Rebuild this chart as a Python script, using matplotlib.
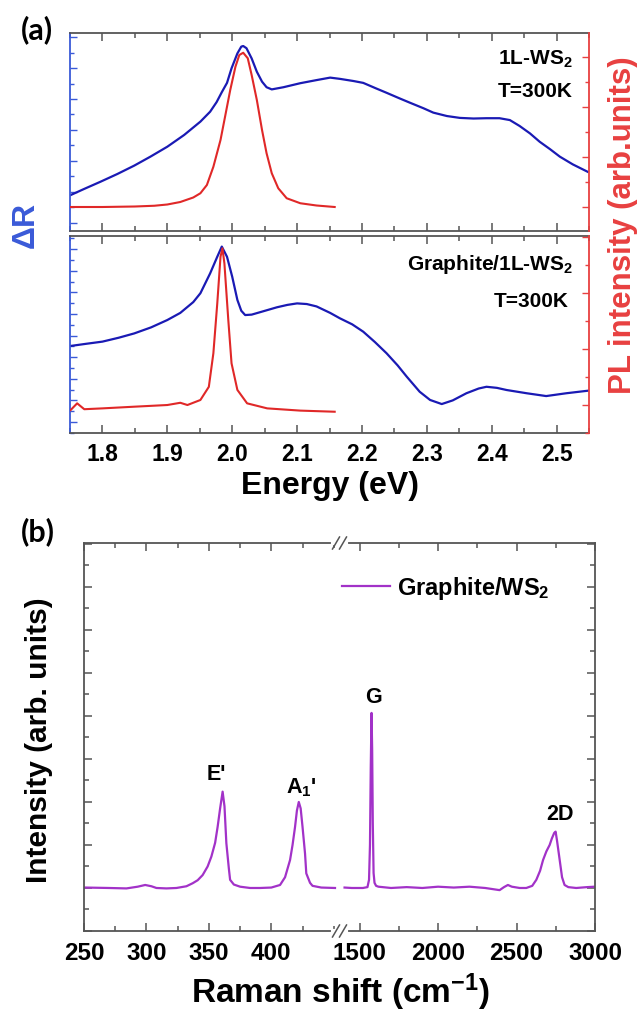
import matplotlib
matplotlib.use("Agg")
import matplotlib.pyplot as plt
from matplotlib.ticker import MultipleLocator, FixedLocator
from matplotlib.lines import Line2D

plt.rcParams['font.family'] = ['Liberation Sans', 'DejaVu Sans']
plt.rcParams['font.weight'] = 'bold'
plt.rcParams['mathtext.fontset'] = 'custom'
plt.rcParams['mathtext.rm'] = 'Liberation Sans:bold'
plt.rcParams['mathtext.bf'] = 'Liberation Sans:bold'
plt.rcParams['mathtext.it'] = 'Liberation Sans:bold'
plt.rcParams['mathtext.default'] = 'rm'

# ---------------- data: panel (a) top, 1L-WS2 ----------------
E_top_dR = [1.751, 1.771, 1.797, 1.823, 1.849, 1.874, 1.900, 1.926, 1.951, 1.966,
            1.976, 1.984, 1.992, 1.999, 2.008, 2.014, 2.017, 2.022, 2.030, 2.038,
            2.046, 2.053, 2.061, 2.079, 2.105, 2.130, 2.151, 2.166, 2.187, 2.202,
            2.222, 2.238, 2.258, 2.274, 2.295, 2.310, 2.331, 2.351, 2.372, 2.392,
            2.412, 2.428, 2.443, 2.459, 2.474, 2.490, 2.505, 2.525, 2.548]
dR_top = [0.90, 1.09, 1.33, 1.58, 1.85, 2.14, 2.46, 2.84, 3.27, 3.59,
          3.90, 4.22, 4.52, 4.99, 5.47, 5.69, 5.71, 5.64, 5.31, 4.88,
          4.56, 4.38, 4.31, 4.38, 4.51, 4.61, 4.69, 4.65, 4.58, 4.52,
          4.34, 4.20, 4.02, 3.88, 3.70, 3.56, 3.45, 3.39, 3.37, 3.38,
          3.38, 3.32, 3.13, 2.89, 2.62, 2.38, 2.14, 1.89, 1.65]

E_top_PL = [1.750, 1.800, 1.850, 1.880, 1.900, 1.920, 1.940, 1.951, 1.961, 1.971,
            1.982, 1.989, 1.997, 2.005, 2.011, 2.017, 2.024, 2.030, 2.038, 2.046,
            2.053, 2.061, 2.071, 2.084, 2.105, 2.130, 2.158]
PL_top = [0.00, 0.00, 0.02, 0.05, 0.10, 0.20, 0.38, 0.55, 0.88, 1.61,
          2.68, 3.61, 4.68, 5.61, 6.08, 6.17, 5.95, 5.28, 4.28, 3.08,
          2.15, 1.35, 0.75, 0.35, 0.15, 0.06, 0.00]

# ---------------- data: panel (a) bottom, Graphite/1L-WS2 ----------------
E_bot_dR = [1.751, 1.775, 1.800, 1.825, 1.849, 1.875, 1.900, 1.920, 1.940, 1.951,
            1.966, 1.977, 1.984, 1.992, 2.000, 2.008, 2.014, 2.020, 2.030, 2.045,
            2.069, 2.085, 2.100, 2.115, 2.130, 2.151, 2.166, 2.185, 2.202, 2.220,
            2.238, 2.255, 2.269, 2.289, 2.305, 2.323, 2.340, 2.361, 2.380, 2.392,
            2.408, 2.423, 2.454, 2.484, 2.515, 2.549]
dR_bot = [3.52, 3.62, 3.72, 3.90, 4.10, 4.38, 4.72, 5.05, 5.55, 5.96,
          6.88, 7.65, 8.12, 7.65, 6.73, 5.65, 5.15, 4.95, 4.97, 5.10,
          5.31, 5.42, 5.49, 5.46, 5.35, 5.05, 4.80, 4.52, 4.18, 3.70,
          3.18, 2.62, 2.10, 1.40, 1.02, 0.83, 1.00, 1.33, 1.55, 1.63,
          1.58, 1.48, 1.33, 1.20, 1.33, 1.45]

E_bot_PL = [1.751, 1.761, 1.772, 1.800, 1.849, 1.900, 1.920, 1.931, 1.951, 1.964,
            1.971, 1.977, 1.982, 1.985, 1.988, 1.994, 1.999, 2.008, 2.023, 2.054,
            2.105, 2.158]
PL_bot = [-0.18, 0.06, -0.15, -0.12, -0.06, 0.00, 0.08, 0.00, 0.18, 0.65,
          1.85, 3.63, 5.30, 5.60, 5.06, 3.04, 1.49, 0.54, 0.06, -0.12,
          -0.20, -0.24]

energy_ticks = [1.8, 1.9, 2.0, 2.1, 2.2, 2.3, 2.4, 2.5]

# ---------------- data: panel (b), Raman ----------------
raman_low_x = [251, 270, 284, 293, 299, 304, 308, 316, 324, 332, 337, 341, 345, 349,
               352, 355, 357, 359, 361, 362.5, 364, 366, 367, 370, 375, 383, 391, 400,
               407, 411, 415, 417, 419, 420.5, 422, 423.5, 425, 427, 428, 431, 433,
               440, 451]
raman_low_y = [1.01, 1.00, 0.99, 1.03, 1.07, 1.04, 1.00, 0.99, 1.00, 1.04, 1.11, 1.18,
               1.30, 1.50, 1.73, 2.05, 2.42, 2.85, 3.24, 2.90, 2.04, 1.45, 1.19, 1.08,
               1.03, 1.00, 1.00, 1.01, 1.07, 1.25, 1.65, 2.00, 2.42, 2.80, 3.00, 2.85,
               2.42, 1.80, 1.34, 1.12, 1.05, 1.01, 1.00]
raman_high_x = [1404, 1450, 1521, 1550, 1560, 1566, 1571, 1576, 1580, 1584, 1589, 1595,
                1605, 1620, 1700, 1800, 1900, 2000, 2100, 2200, 2300, 2392, 2420, 2445,
                2470, 2520, 2562, 2600, 2626, 2650, 2669, 2690, 2711, 2725, 2740, 2749,
                2758, 2775, 2790, 2806, 2830, 2880, 2950, 2997]
raman_high_y = [1.01, 1.00, 1.00, 1.02, 1.19, 2.00, 3.80, 5.07, 4.20, 2.50, 1.35, 1.12,
                1.05, 1.03, 1.00, 1.02, 1.00, 1.03, 1.01, 1.03, 1.00, 0.95, 1.02, 1.07,
                1.03, 1.00, 1.00, 1.05, 1.19, 1.40, 1.65, 1.85, 2.00, 2.15, 2.28, 2.31,
                2.10, 1.65, 1.25, 1.07, 1.02, 1.00, 1.02, 1.03]
raman_low_ticks = [250, 300, 350, 400]
raman_high_ticks = [1500, 2000, 2500, 3000]

# ---------------- styling ----------------
BLUE_LINE = '#1a1ab4'
RED_LINE = '#e02828'
BLUE_AX = '#3a5ad8'
RED_AX = '#e84040'
PURPLE = '#a232c8'
GREY = '#555555'

W, H = 641, 1014
fig = plt.figure(figsize=(W / 100, H / 100), dpi=100)


def fx(px):
    return px / W


def fy(py):
    return 1 - py / H


def rect(x0, y0, x1, y1):
    return [fx(x0), fy(y1), fx(x1) - fx(x0), fy(y0) - fy(y1)]


ax1 = fig.add_axes(rect(70, 33, 589, 231))
ax2 = fig.add_axes(rect(70, 236, 589, 433))
ax1r = ax1.twinx()
ax2r = ax2.twinx()

ax1.plot(E_top_dR, dR_top, color=BLUE_LINE, lw=1.6)
ax1r.plot(E_top_PL, PL_top, color=RED_LINE, lw=1.5)
ax2.plot(E_bot_dR, dR_bot, color=BLUE_LINE, lw=1.6)
ax2r.plot(E_bot_PL, PL_bot, color=RED_LINE, lw=1.5)

ax1.set_ylim(-0.26, 6.13)
ax1r.set_ylim(-0.96, 6.96)
ax2.set_ylim(-0.51, 8.61)
ax2r.set_ylim(-1.0, 6.04)

for ax, axr in [(ax1, ax1r), (ax2, ax2r)]:
    ax.set_xlim(1.75, 2.55)
    ax.xaxis.set_major_locator(FixedLocator(energy_ticks))
    ax.xaxis.set_minor_locator(MultipleLocator(0.05))
    ax.tick_params(axis='x', which='both', direction='in', top=True, bottom=True,
                   color=GREY, width=1.1)
    ax.tick_params(axis='x', which='major', length=6)
    ax.tick_params(axis='x', which='minor', length=3.5)
    ax.yaxis.set_major_locator(MultipleLocator(1))
    ax.yaxis.set_minor_locator(MultipleLocator(0.5))
    ax.tick_params(axis='y', which='both', direction='in', color=BLUE_AX,
                   labelleft=False, width=1.0)
    ax.tick_params(axis='y', which='major', length=5)
    ax.tick_params(axis='y', which='minor', length=3)
    axr.yaxis.set_major_locator(MultipleLocator(2))
    axr.yaxis.set_minor_locator(MultipleLocator(1))
    axr.tick_params(axis='y', which='both', direction='in', color=RED_AX,
                    labelright=False, width=1.0)
    axr.tick_params(axis='y', which='major', length=5)
    axr.tick_params(axis='y', which='minor', length=3)
    for s in ['top', 'bottom']:
        ax.spines[s].set_color(GREY)
        ax.spines[s].set_linewidth(1.3)
    ax.spines['left'].set_color(BLUE_AX)
    ax.spines['left'].set_linewidth(1.3)
    ax.spines['right'].set_visible(False)
    for s in ['top', 'bottom', 'left']:
        axr.spines[s].set_visible(False)
    axr.spines['right'].set_color(RED_AX)
    axr.spines['right'].set_linewidth(1.3)

ax1.tick_params(axis='x', labelbottom=False)
ax2.set_xticklabels([f"{t:.1f}" for t in energy_ticks])
ax2.tick_params(axis='x', labelsize=16.5, pad=7)
for lab in ax2.get_xticklabels():
    lab.set_fontweight('bold')

ax1.text(0.969, 0.838, r"1L-WS$_2$", transform=ax1.transAxes, ha='right',
         va='baseline', fontsize=15)
ax1.text(0.969, 0.677, "T=300K", transform=ax1.transAxes, ha='right',
         va='baseline', fontsize=15)
ax2.text(0.969, 0.827, r"Graphite/1L-WS$_2$", transform=ax2.transAxes, ha='right',
         va='baseline', fontsize=15)
ax2.text(0.960, 0.640, "T=300K", transform=ax2.transAxes, ha='right',
         va='baseline', fontsize=15)

fig.text(fx(330), fy(494), "Energy (eV)", ha='center', va='baseline', fontsize=23)
fig.text(fx(26), fy(225), "ΔR", ha='center', va='center', rotation=90,
         fontsize=23, color=BLUE_AX)
fig.text(fx(623), fy(225), "PL intensity (arb.units)", ha='center', va='center',
         rotation=90, fontsize=22.5, color=RED_AX)
fig.text(fx(37), fy(30), "(a)", ha='center', va='center', fontsize=22,
         family=['Lato', 'DejaVu Sans'], weight='bold')

# ---------------- panel (b) ----------------
axL = fig.add_axes(rect(84, 543, 340, 931))
axR = fig.add_axes(rect(340, 543, 595, 931))

axL.plot(raman_low_x, raman_low_y, color=PURPLE, lw=1.6)
line, = axR.plot(raman_high_x, raman_high_y, color=PURPLE, lw=1.6,
                 label=r"Graphite/WS$_2$")

axL.set_xlim(250, 455)
axR.set_xlim(1375, 3000)
axL.xaxis.set_major_locator(FixedLocator(raman_low_ticks))
axL.xaxis.set_minor_locator(MultipleLocator(25))
axR.xaxis.set_major_locator(FixedLocator(raman_high_ticks))
axR.xaxis.set_minor_locator(MultipleLocator(250))
axL.set_xticklabels([str(t) for t in raman_low_ticks])
axR.set_xticklabels([str(t) for t in raman_high_ticks])
for ax in (axL, axR):
    ax.set_ylim(0, 9.02)
    ax.yaxis.set_major_locator(MultipleLocator(1))
    ax.yaxis.set_minor_locator(MultipleLocator(0.5))
    for s in ax.spines.values():
        s.set_color(GREY)
        s.set_linewidth(1.3)
    ax.tick_params(which='both', direction='in', top=True, bottom=True,
                   color=GREY, width=1.1, labelsize=17.5, pad=8)
    ax.tick_params(which='major', length=6)
    ax.tick_params(which='minor', length=3.5)
    for lab in ax.get_xticklabels():
        lab.set_fontweight('bold')
axL.spines['right'].set_visible(False)
axR.spines['left'].set_visible(False)
axL.tick_params(axis='y', which='both', left=True, right=False, labelleft=False)
axR.tick_params(axis='y', which='both', left=False, right=True, labelleft=False)

axL.text(356, 3.51, "E'", ha='center', va='baseline', fontsize=15.5)
axL.text(424, 3.21, r"A$_1$'", ha='center', va='baseline', fontsize=15.5)
axR.text(1589, 5.30, "G", ha='center', va='baseline', fontsize=15.5)
axR.text(2774, 2.58, "2D", ha='center', va='baseline', fontsize=15.5)

axR.legend(handles=[line], loc='center left', bbox_to_anchor=(fx(342), fy(588)),
           bbox_transform=fig.transFigure, frameon=False,
           handlelength=2.05, handletextpad=0.3, borderpad=0, borderaxespad=0,
           prop={'weight': 'bold', 'size': 17})

fig.text(fx(340), fy(1003), r"Raman shift (cm$^{-1}$)", ha='center', va='baseline',
         fontsize=24)
fig.text(fx(39), fy(740), "Intensity (arb. units)", ha='center', va='center',
         rotation=90, fontsize=21.5)
fig.text(fx(38), fy(532), "(b)", ha='center', va='center', fontsize=22,
         family=['Lato', 'DejaVu Sans'], weight='bold')

# axis-break marks "//"
for ypx in (543, 931):
    fig.add_artist(Line2D([fx(333), fx(346)], [fy(ypx), fy(ypx)], color='white',
                          lw=3, transform=fig.transFigure, zorder=10))
    for xc in (336, 343):
        fig.add_artist(Line2D([fx(xc - 3.5), fx(xc + 3.5)], [fy(ypx + 6), fy(ypx - 6)],
                              color=GREY, lw=1.1, transform=fig.transFigure, zorder=11))

fig.savefig("out.png", dpi=100)
